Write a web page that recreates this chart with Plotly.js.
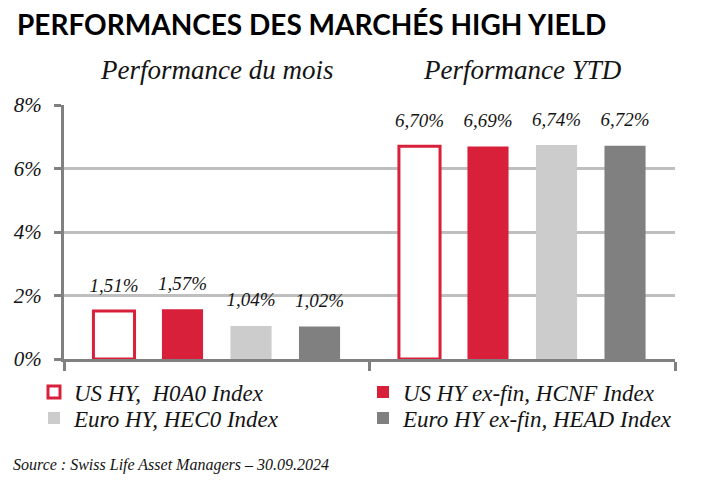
<!DOCTYPE html>
<html>
<head>
<meta charset="utf-8">
<script src="https://cdn.plot.ly/plotly-3.0.1.min.js"></script>
<style>html,body{margin:0;padding:0;background:#fff;}#chart{width:717px;height:481px;}</style>
</head>
<body>
<div id="chart"></div>
<script>
// ---- data ----
const categories = ["Performance du mois", "Performance YTD"];
const seriesNames = ["US HY,\u00a0 H0A0 Index", "US HY ex-fin, HCNF Index", "Euro HY, HEC0 Index", "Euro HY ex-fin, HEAD Index"];
const usHY = [1.51, 6.70];
const usHYexFin = [1.57, 6.69];
const euroHY = [1.04, 6.74];
const euroHYexFin = [1.02, 6.72];
const yTickVals = [0, 2, 4, 6, 8];
const yTickText = ["0%", "2%", "4%", "6%", "8%"];

// ---- styles ----
const RED = "#d9203a";
const LIGHT = "#cccccc";
const DARK = "#808080";
const seriesValues = [usHY, usHYexFin, euroHY, euroHYexFin];
const fills = ["#ffffff", RED, LIGHT, DARK];
const lines = [RED, RED, LIGHT, DARK];
const lineWidths = [3, 0, 0, 0];
const legendIds = ["legend", "legend", "legend2", "legend2"];
const SERIF = "Liberation Serif, DejaVu Serif, serif";
const TXT = "#141414";

const fmt = v => v.toFixed(2).replace(".", ",") + "%";

const traces = [];
seriesValues.forEach((vals, i) => {
  traces.push({
    type: "bar",
    name: seriesNames[i],
    legend: legendIds[i],
    x: categories,
    y: vals,
    marker: { color: fills[i], line: { color: lines[i], width: lineWidths[i] } },
    hoverinfo: "skip",
    showlegend: true
  });
});
seriesValues.forEach((vals, i) => {
  traces.push({
    type: "scatter",
    mode: "markers+text",
    orientation: "v",
    x: categories,
    y: vals,
    text: vals.map(fmt),
    textposition: "top center",
    textfont: { family: SERIF, size: 19, style: "italic", color: TXT },
    marker: { size: 22, color: "rgba(0,0,0,0)" },
    cliponaxis: false,
    hoverinfo: "skip",
    showlegend: false
  });
});

const legendBase = {
  orientation: "h",
  x: -30 / 611, xanchor: "left",
  yanchor: "middle",
  entrywidth: 284, entrywidthmode: "pixels",
  traceorder: "normal",
  font: { family: SERIF, size: 23, style: "italic", color: TXT },
  itemclick: false, itemdoubleclick: false,
  bgcolor: "rgba(0,0,0,0)"
};

const layout = {
  width: 717, height: 481,
  margin: { l: 64, r: 42, t: 105, b: 122, pad: 0 },
  paper_bgcolor: "#ffffff",
  plot_bgcolor: "#ffffff",
  barmode: "group",
  bargap: 0.103,
  bargroupgap: 0.4,
  scattermode: "group",
  scattergap: 0.103,
  showlegend: true,
  title: {
    text: "PERFORMANCES DES MARCHÉS HIGH YIELD",
    font: { family: "Lato, Noto Sans, sans-serif", size: 28, weight: "bold", color: "#000000" },
    x: 17 / 717, xanchor: "left", xref: "container",
    y: 1 - 15 / 481, yanchor: "top", yref: "container"
  },
  xaxis: {
    type: "category",
    showline: true, linecolor: DARK, linewidth: 3,
    ticks: "outside", tickson: "boundaries", ticklen: 9, tickwidth: 3, tickcolor: DARK,
    showticklabels: false, showgrid: false, zeroline: false, fixedrange: true
  },
  yaxis: {
    range: [0, 8],
    tickvals: yTickVals, ticktext: yTickText,
    showline: true, linecolor: DARK, linewidth: 3,
    ticks: "outside", ticklen: 7, tickwidth: 3, tickcolor: DARK,
    ticklabelstandoff: 8,
    tickfont: { family: SERIF, size: 21, style: "italic", color: TXT },
    showgrid: true, gridcolor: "#bfbfbf", gridwidth: 3,
    zeroline: false, fixedrange: true
  },
  legend: Object.assign({}, legendBase, { y: (358 - 391) / 254 }),
  legend2: Object.assign({}, legendBase, { y: (358 - 417) / 254 }),
  annotations: categories.map(c => ({
    x: c, xref: "x", y: 1, yref: "paper",
    yanchor: "bottom", yshift: 18, showarrow: false,
    text: c,
    font: { family: SERIF, size: 27, style: "italic", color: TXT }
  })).concat([{
    x: -53 / 611, xref: "paper", xanchor: "left",
    y: (358.5 - 464) / 254, yref: "paper", yanchor: "middle",
    showarrow: false,
    text: "Source : Swiss Life Asset Managers – 30.09.2024",
    font: { family: SERIF, size: 16, style: "italic", color: TXT }
  }])
};

Plotly.newPlot("chart", traces, layout, { staticPlot: true, displayModeBar: false });
</script>
</body>
</html>
